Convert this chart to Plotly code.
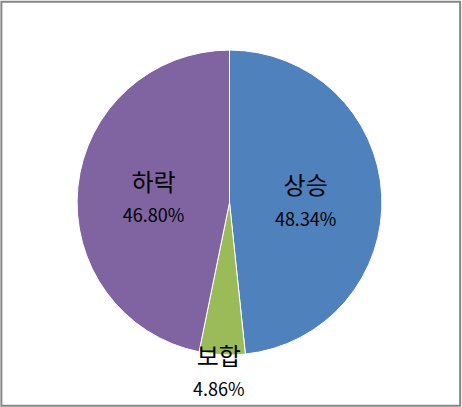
import plotly.graph_objects as go

labels = ["상승", "보합", "하락"]
values = [48.34, 4.86, 46.80]
colors = ["#4F81BD", "#9BBB59", "#8064A2"]

inside_tpl = ('<span style="font-size:24px">%{label}</span><br>'
              '<span style="font-size:18px">%{percent:.2%}</span>')
templates = [inside_tpl, "", inside_tpl]
text_pos = ["inside", "none", "inside"]

fig = go.Figure(go.Pie(
    labels=labels,
    values=values,
    sort=False,
    direction="clockwise",
    rotation=0,
    marker=dict(colors=colors, line=dict(color="white", width=1)),
    textposition=text_pos,
    texttemplate=templates,
    insidetextorientation="horizontal",
    textfont=dict(family="Noto Sans CJK KR", size=24, color="black"),
    domain=dict(x=[0.1645, 0.829], y=[0.128, 0.877]),
    showlegend=False,
))

# small slice label sits below the pie, as in the original
small = 1
fig.add_annotation(
    xref="paper", yref="paper", x=0.475, y=0.178, yanchor="top",
    text=(f'<span style="font-size:24px">{labels[small]}</span><br>'
          f'<span style="font-size:18px">{values[small]:.2f}%</span>'),
    showarrow=False,
    font=dict(family="Noto Sans CJK KR", size=24, color="black"),
)

fig.update_layout(
    width=462, height=407,
    margin=dict(l=0, r=0, t=0, b=0),
    paper_bgcolor="white",
    shapes=[dict(type="rect", xref="paper", yref="paper", x0=0.003, y0=0.003, x1=0.996, y1=0.996,
                 line=dict(color="#868686", width=2))],
)

fig.write_html("out.html", config={"displayModeBar": False},
               post_script="document.body.style.margin='0';")
